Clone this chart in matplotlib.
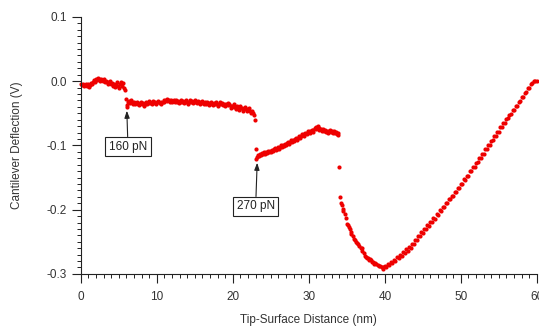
import numpy as np
import matplotlib
matplotlib.use('Agg')
import matplotlib.pyplot as plt
from matplotlib.ticker import MultipleLocator

plt.rcParams['font.family'] = ['Liberation Sans', 'DejaVu Sans']

# contact region, before the first rupture (x nm, y V)
seg_a = np.array([
    (0.0,-0.004),(0.1,-0.006),(0.25,-0.005),(0.4,-0.008),(0.5,-0.006),
    (0.65,-0.004),(0.8,-0.007),(0.9,-0.005),(1.05,-0.009),(1.2,-0.006),
    (1.3,-0.003),(1.45,-0.005),(1.6,-0.001),(1.7,0.002),(1.85,-0.001),
    (2.0,0.004),(2.1,0.002),(2.25,0.005),(2.4,0.003),(2.5,0.001),
    (2.65,0.004),(2.8,0.002),(2.9,0.000),(3.05,0.003),(3.2,-0.002),
    (3.3,0.001),(3.45,-0.001),(3.6,-0.004),(3.7,-0.002),(3.85,0.000),
    (4.0,-0.005),(4.1,-0.003),(4.25,-0.007),(4.4,-0.004),(4.5,-0.009),
    (4.65,-0.006),(4.8,-0.002),(4.9,-0.008),(5.05,-0.011),(5.2,-0.004),
    (5.3,-0.001),(5.45,-0.007),(5.6,-0.003),(5.7,-0.010),(5.85,-0.013)])

# plateau after 160 pN rupture
seg_b = np.array([
    (6.0,-0.027),(6.05,-0.040),(6.1,-0.037),(6.2,-0.033),(6.35,-0.031),(6.5,-0.034),
    (6.6,-0.030),(6.75,-0.032),(6.9,-0.035),(7.0,-0.033),(7.15,-0.036),(7.3,-0.034),
    (7.4,-0.032),(7.55,-0.035),(7.7,-0.037),(7.8,-0.034),(7.95,-0.032),(8.1,-0.036),
    (8.2,-0.034),(8.35,-0.038),(8.5,-0.035),(8.6,-0.033),(8.75,-0.036),(8.9,-0.034),
    (9.0,-0.031),(9.15,-0.034),(9.3,-0.036),(9.4,-0.033),(9.55,-0.031),(9.7,-0.034),
    (9.8,-0.032),(9.95,-0.035),(10.1,-0.033),(10.2,-0.031),(10.35,-0.034),(10.5,-0.032),
    (10.6,-0.035),(10.75,-0.033),(10.9,-0.030),(11.0,-0.032),(11.15,-0.029),(11.3,-0.031),
    (11.4,-0.028),(11.55,-0.030),(11.7,-0.032),(11.8,-0.030),(11.95,-0.033),(12.1,-0.031),
    (12.2,-0.029),(12.35,-0.032),(12.5,-0.030),(12.6,-0.033),(12.75,-0.031),(12.9,-0.034),
    (13.0,-0.032),(13.15,-0.030),(13.3,-0.033),(13.4,-0.031),(13.55,-0.034),(13.7,-0.032),
    (13.8,-0.030),(13.95,-0.033),(14.1,-0.035),(14.2,-0.032),(14.35,-0.030),(14.5,-0.033),
    (14.6,-0.031),(14.75,-0.034),(14.9,-0.032),(15.0,-0.029),(15.15,-0.032),(15.3,-0.034),
    (15.4,-0.031),(15.55,-0.033),(15.7,-0.036),(15.8,-0.033),(15.95,-0.031),(16.1,-0.034),
    (16.2,-0.036),(16.35,-0.033),(16.5,-0.035),(16.6,-0.032),(16.75,-0.034),(16.9,-0.037),
    (17.0,-0.034),(17.15,-0.032),(17.3,-0.035),(17.4,-0.037),(17.55,-0.034),(17.7,-0.036),
    (17.8,-0.033),(17.95,-0.035),(18.1,-0.038),(18.2,-0.035),(18.35,-0.033),(18.5,-0.036),
    (18.6,-0.034),(18.75,-0.037),(18.9,-0.035),(19.0,-0.039),(19.15,-0.036),(19.3,-0.034),
    (19.4,-0.037),(19.55,-0.035),(19.7,-0.038),(19.8,-0.041),(19.95,-0.038),(20.1,-0.036),
    (20.2,-0.040),(20.35,-0.043),(20.5,-0.039),(20.6,-0.042),(20.75,-0.045),(20.9,-0.041),
    (21.0,-0.038),(21.15,-0.042),(21.3,-0.046),(21.4,-0.043),(21.55,-0.040),(21.7,-0.044),
    (21.8,-0.047),(21.95,-0.044),(22.1,-0.042),(22.2,-0.046),(22.35,-0.049),(22.5,-0.046),
    (22.6,-0.050),(22.75,-0.053),(22.9,-0.061)])

# after 270 pN rupture
seg_c = np.array([
    (23.0,-0.106),(23.05,-0.121),(23.15,-0.118),(23.3,-0.115),(23.4,-0.117),(23.55,-0.113),
    (23.7,-0.115),(23.8,-0.112),(23.95,-0.114),(24.1,-0.111),(24.2,-0.113),(24.35,-0.110),
    (24.5,-0.112),(24.6,-0.109),(24.75,-0.111),(24.9,-0.108),(25.0,-0.110),(25.15,-0.107),
    (25.3,-0.109),(25.4,-0.106),(25.55,-0.104),(25.7,-0.107),(25.8,-0.105),(25.95,-0.102),
    (26.1,-0.105),(26.2,-0.103),(26.35,-0.100),(26.5,-0.102),(26.6,-0.099),(26.75,-0.101),
    (26.9,-0.098),(27.0,-0.100),(27.15,-0.097),(27.3,-0.095),(27.4,-0.098),(27.55,-0.095),
    (27.7,-0.092),(27.8,-0.094),(27.95,-0.091),(28.1,-0.093),(28.2,-0.090),(28.35,-0.088),
    (28.5,-0.091),(28.6,-0.088),(28.75,-0.086),(28.9,-0.088),(29.0,-0.085),(29.15,-0.083),
    (29.3,-0.086),(29.4,-0.083),(29.55,-0.081),(29.7,-0.083),(29.8,-0.080),(29.95,-0.078),
    (30.1,-0.081),(30.2,-0.078),(30.35,-0.076),(30.5,-0.079),(30.6,-0.076),(30.75,-0.073),
    (30.9,-0.075),(31.0,-0.072),(31.15,-0.070),(31.3,-0.073),(31.4,-0.076),(31.55,-0.074),
    (31.7,-0.077),(31.8,-0.075),(31.95,-0.078),(32.1,-0.076),(32.2,-0.079),(32.35,-0.077),
    (32.5,-0.080),(32.6,-0.078),(32.75,-0.076),(32.9,-0.079),(33.0,-0.077),(33.15,-0.080),
    (33.3,-0.078),(33.4,-0.081),(33.55,-0.079),(33.7,-0.082),(33.8,-0.080),(33.9,-0.084)])

# final detachment and return to baseline
seg_d = np.array([
    (34.0,-0.134),(34.08,-0.181),(34.2,-0.190),(34.3,-0.193),(34.43,-0.199),(34.55,-0.202),
    (34.74,-0.207),(34.85,-0.213),(34.96,-0.222),(35.1,-0.224),(35.25,-0.227),(35.39,-0.230),
    (35.5,-0.234),(35.61,-0.238),(35.75,-0.241),(35.9,-0.245),(36.05,-0.248),(36.2,-0.250),
    (36.35,-0.252),(36.49,-0.254),(36.65,-0.257),(36.8,-0.259),(36.93,-0.260),(37.05,-0.264),
    (37.2,-0.268),(37.37,-0.272),(37.5,-0.273),(37.65,-0.275),(37.8,-0.276),(37.9,-0.278),
    (38.03,-0.277),(38.15,-0.279),(38.3,-0.281),(38.47,-0.282),(38.6,-0.284),(38.75,-0.283),
    (38.9,-0.285),(39.1,-0.286),(39.25,-0.288),(39.4,-0.287),(39.56,-0.290),(39.7,-0.289),
    (39.8,-0.292)])

seg_e = np.array([
    (40.0,-0.287),(40.2,-0.289),(40.4,-0.284),(40.6,-0.286),(40.8,-0.281),(41.0,-0.283),
    (41.2,-0.278),(41.4,-0.280),(41.6,-0.274),(41.8,-0.276),(42.0,-0.271),(42.2,-0.272),
    (42.4,-0.266),(42.6,-0.268),(42.8,-0.262),(43.0,-0.264),(43.2,-0.258),(43.4,-0.259),
    (43.6,-0.253),(43.8,-0.254),(44.0,-0.247),(44.2,-0.248),(44.4,-0.241),(44.6,-0.241),
    (44.8,-0.235),(45.0,-0.236),(45.2,-0.230),(45.4,-0.230),(45.6,-0.224),(45.8,-0.225),
    (46.0,-0.219),(46.2,-0.219),(46.4,-0.213),(46.6,-0.214),(46.8,-0.207),(47.0,-0.208),
    (47.2,-0.201),(47.4,-0.202),(47.6,-0.196),(47.8,-0.196),(48.0,-0.190),(48.2,-0.190),
    (48.4,-0.184),(48.6,-0.184),(48.8,-0.178),(49.0,-0.179),(49.2,-0.172),(49.4,-0.173),
    (49.6,-0.166),(49.8,-0.167),(50.0,-0.160),(50.2,-0.160),(50.4,-0.153),(50.6,-0.154),
    (50.8,-0.147),(51.0,-0.147),(51.2,-0.140),(51.4,-0.140),(51.6,-0.133),(51.8,-0.134),
    (52.0,-0.127),(52.2,-0.126),(52.4,-0.119),(52.6,-0.120),(52.8,-0.113),(53.0,-0.113),
    (53.2,-0.106),(53.4,-0.106),(53.6,-0.099),(53.8,-0.099),(54.0,-0.093),(54.2,-0.092),
    (54.4,-0.086),(54.6,-0.085),(54.8,-0.079),(55.0,-0.079),(55.2,-0.072),(55.4,-0.072),
    (55.6,-0.065),(55.8,-0.065),(56.0,-0.059),(56.2,-0.058),(56.4,-0.052),(56.6,-0.051),
    (56.8,-0.045),(57.0,-0.045),(57.2,-0.038),(57.4,-0.038),(57.6,-0.032),(57.8,-0.031),
    (58.0,-0.025),(58.2,-0.024),(58.4,-0.018),(58.6,-0.017),(58.8,-0.011),(59.0,-0.010),
    (59.2,-0.005),(59.4,-0.003),(59.6,0.000),(59.8,0.001),(60.0,0.000)])

labels = ['160 pN', '270 pN']
label_xy = [(6.2, -0.102), (23.0, -0.195)]
arrow_xy = [(6.05, -0.046), (23.2, -0.127)]

fig = plt.figure(figsize=(5.39, 3.32), dpi=100)
ax = fig.add_axes([0.150, 0.175, 0.846, 0.774])

data = np.vstack([seg_a, seg_b, seg_c, seg_d, seg_e])
ax.plot(data[:, 0], data[:, 1], 'o', color='#ee0000', markersize=3.0,
        markeredgewidth=0, clip_on=False)

for txt, t, a in zip(labels, label_xy, arrow_xy):
    ax.annotate(txt, xy=a, xytext=t, ha='center', va='center',
                fontsize=8.5, color='#222222',
                bbox=dict(boxstyle='square,pad=0.3', fc='white', ec='#222222', lw=0.8),
                arrowprops=dict(arrowstyle='-|>,head_length=0.5,head_width=0.18',
                                color='#222222', lw=0.8, shrinkA=0, shrinkB=0))

ax.set_xlim(0, 60)
ax.set_ylim(-0.3, 0.1)
ax.xaxis.set_major_locator(MultipleLocator(10))
ax.xaxis.set_minor_locator(MultipleLocator(1))
ax.yaxis.set_major_locator(MultipleLocator(0.1))
ax.yaxis.set_minor_locator(MultipleLocator(0.01))
ax.yaxis.set_major_formatter(plt.FuncFormatter(lambda v, p: '%.1f' % v))

for s in ['top', 'right']:
    ax.spines[s].set_visible(False)
for s in ['left', 'bottom']:
    ax.spines[s].set_linewidth(0.8)
    ax.spines[s].set_color('#222222')

ax.tick_params(which='major', length=6.5, width=0.8, color='#222222',
               labelsize=8.5, labelcolor='#333333')
ax.tick_params(which='minor', length=3, width=0.7, color='#222222')
ax.tick_params(axis='x', which='major', pad=6)
ax.tick_params(axis='y', which='major', pad=3.5)

ax.set_xlabel('Tip-Surface Distance (nm)', fontsize=8.5, color='#333333', labelpad=8)
ax.set_ylabel('Cantilever Deflection (V)', fontsize=8.5, color='#333333', labelpad=17)

fig.savefig('out.png', dpi=100)
